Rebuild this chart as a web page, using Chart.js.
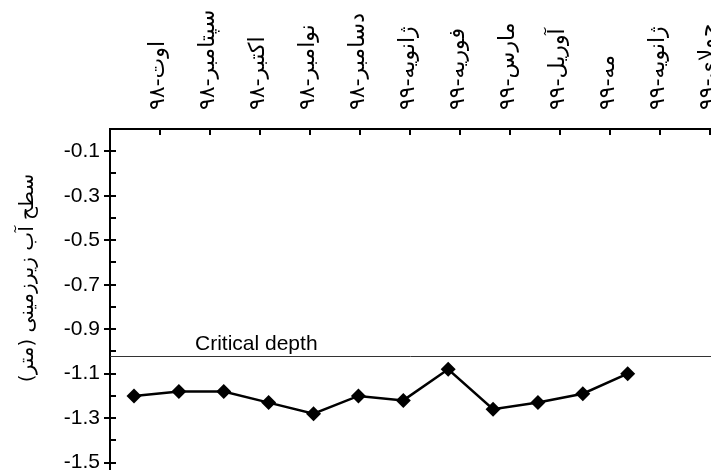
<!DOCTYPE html>
<html lang="fa">
<head>
<meta charset="UTF-8">
<title>سطح آب زیرزمینی</title>
<script src="https://cdn.jsdelivr.net/npm/chart.js"></script>
<style>
    body { margin: 0; background: #fff; }
    #grafico { display: block; }
</style>
</head>
<body>
<canvas id="grafico" width="711" height="470"></canvas>

<script>
// Datos
const meses = ['اوت-۹۸', 'سپتامبر-۹۸', 'اکتبر-۹۸', 'نوامبر-۹۸', 'دسامبر-۹۸', 'ژانویه-۹۹',
    'فوریه-۹۹', 'مارس-۹۹', 'آوریل-۹۹', 'مه-۹۹', 'ژانویه-۹۹', 'جولای-۹۹'];
const nivelAgua = [-1.20, -1.18, -1.18, -1.23, -1.28, -1.20, -1.22, -1.08, -1.26, -1.23, -1.19, -1.10];
const profundidadCritica = -1.02;
const etiquetaCritica = 'Critical depth';
const ticksY = [-0.1, -0.3, -0.5, -0.7, -0.9, -1.1, -1.3, -1.5];
const ticksYMenores = [-0.2, -0.4, -0.6, -0.8, -1.0, -1.2, -1.4];
const tituloY = 'سطح آب زیرزمینی (متر)';

const fuenteLatina = "'Liberation Sans', Arial, sans-serif";
const fuentePersa = "'DejaVu Sans', sans-serif";

// marcas de los ejes (hacia adentro y cruzando)
const marcasEjes = {
    id: 'marcasEjes',
    afterDraw(chart) {
        const { ctx, chartArea } = chart;
        const ejeY = chart.scales.y;
        const ejeMeses = chart.scales.meses;
        ctx.save();
        ctx.strokeStyle = '#000';
        ctx.lineWidth = 2;
        ctx.beginPath();
        ticksY.forEach(v => {
            const py = Math.round(ejeY.getPixelForValue(v));
            ctx.moveTo(chartArea.left - 6, py);
            ctx.lineTo(chartArea.left + 6, py);
        });
        ticksYMenores.forEach(v => {
            const py = Math.round(ejeY.getPixelForValue(v));
            ctx.moveTo(chartArea.left, py);
            ctx.lineTo(chartArea.left + 6, py);
        });
        meses.forEach((m, i) => {
            const px = Math.round(ejeMeses.getPixelForValue(i + 1));
            ctx.moveTo(px, chartArea.top);
            ctx.lineTo(px, chartArea.top + 6);
        });
        ctx.stroke();

        // titulo del eje Y (rtl, un poco arriba del centro como en el original)
        ctx.fillStyle = '#000';
        ctx.font = '20px ' + fuentePersa;
        ctx.direction = 'rtl';
        ctx.textAlign = 'center';
        ctx.textBaseline = 'middle';
        ctx.translate(28, chartArea.top + 149);
        ctx.rotate(-Math.PI / 2);
        ctx.fillText(tituloY, 0, 0);
        ctx.restore();
    }
};

// linea de profundidad critica
const lineaCritica = {
    id: 'lineaCritica',
    beforeDatasetsDraw(chart) {
        const { ctx, chartArea } = chart;
        const py = Math.round(chart.scales.y.getPixelForValue(profundidadCritica)) + 0.5;
        ctx.save();
        ctx.strokeStyle = '#333';
        ctx.lineWidth = 1;
        ctx.beginPath();
        ctx.moveTo(chartArea.left, py);
        ctx.lineTo(chartArea.right, py);
        ctx.stroke();
        ctx.fillStyle = '#000';
        ctx.font = '21px ' + fuenteLatina;
        ctx.textBaseline = 'alphabetic';
        ctx.fillText(etiquetaCritica, chartArea.left + 85, py - 7);
        ctx.restore();
    }
};

const ctx = document.getElementById('grafico').getContext('2d');
new Chart(ctx, {
    type: 'line',
    data: {
        datasets: [{
            label: tituloY,
            data: nivelAgua.map((v, i) => ({ x: i + 1, y: v })),
            borderColor: '#000',
            backgroundColor: '#000',
            borderWidth: 2.5,
            pointStyle: 'rectRot',
            pointRadius: 7.5,
            pointHoverRadius: 7.5,
            pointBorderWidth: 0,
            tension: 0
        }]
    },
    options: {
        responsive: false,
        animation: false,
        layout: { padding: 0, autoPadding: false },
        plugins: {
            legend: { display: false },
            tooltip: { enabled: false }
        },
        scales: {
            x: {
                type: 'linear',
                display: false,
                min: 0.465,
                max: 13.856
            },
            meses: {
                type: 'linear',
                axis: 'x',
                position: 'top',
                min: 0,
                max: 12.02,
                afterBuildTicks: s => { s.ticks = meses.map((m, i) => ({ value: i + 1 })); },
                afterFit: s => { s.height = 129; s.paddingLeft = 0; s.paddingRight = 0; },
                grid: { drawOnChartArea: false, drawTicks: false },
                border: { color: '#000', width: 2 },
                ticks: {
                    autoSkip: false,
                    minRotation: 90,
                    maxRotation: 90,
                    padding: 19,
                    labelOffset: 25,
                    color: '#000',
                    font: { family: fuentePersa, size: 22 },
                    callback: v => meses[v - 1]
                }
            },
            y: {
                min: -1.533,
                max: 0,
                afterBuildTicks: s => { s.ticks = ticksY.map(v => ({ value: v })); },
                afterFit: s => { s.width = 110; s.paddingTop = 0; s.paddingBottom = 0; },
                grid: { drawOnChartArea: false, drawTicks: false },
                border: { color: '#000', width: 2 },
                ticks: {
                    padding: 10,
                    color: '#000',
                    font: { family: fuenteLatina, size: 21 },
                    callback: v => v.toFixed(1)
                }
            }
        }
    },
    plugins: [lineaCritica, marcasEjes]
});
</script>
</body>
</html>
